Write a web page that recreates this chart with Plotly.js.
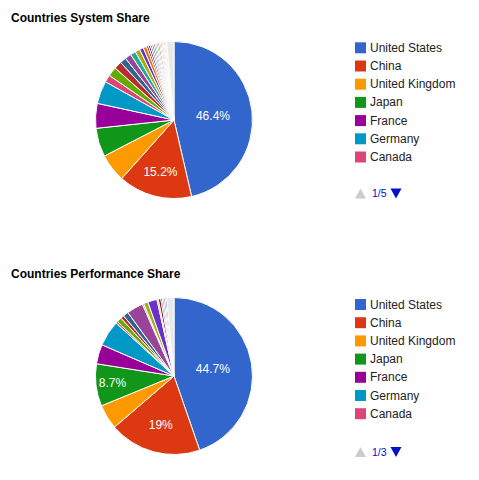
<!DOCTYPE html>
<html>
<head>
<meta charset="utf-8">
<script src="https://cdn.plot.ly/plotly-3.0.1.min.js"></script>
<style>html,body{margin:0;padding:0;background:#fff;}#chart{width:479px;height:480px;}</style>
</head>
<body>
<div id="chart"></div>
<script>
// ---- data ----
const systemCountries = ["United States","China","United Kingdom","Japan","France","Germany","Canada",
  "Korea, South","Italy","India","Australia","Russia","Switzerland","Sweden","Netherlands",
  "Spain","Poland","Brazil","Norway","Saudi Arabia","Finland","Taiwan","Belgium","Denmark","Israel",
  "Austria","Singapore","New Zealand","Ireland","South Africa","Other"];
const systemShare = [46.4,15.2,5.8,5.9,5.1,4.7,1.5,
  1.9,1.6,1.3,1.3,1.1,1.0,0.8,0.7,
  0.4,0.4,0.35,0.35,0.3,0.3,0.3,0.3,0.25,0.25,0.25,0.2,0.2,0.2,0.15,1.5];

const perfCountries = ["United States","China","United Kingdom","Japan","France","Germany","Canada",
  "Korea, South","Italy","India","Australia","Russia","Switzerland","Sweden","Netherlands","Spain",
  "Poland","Brazil","Norway","Finland","Other"];
const perfShare = [44.7,19.0,5.1,8.7,4.0,5.3,0.4,
  1.0,0.7,1.1,3.4,0.3,0.9,1.9,0.3,0.5,0.3,0.3,0.3,0.3,1.5];

const palette = ["#3366cc","#dc3912","#ff9900","#109618","#990099","#0099c6","#dd4477","#66aa00",
  "#b82e2e","#316395","#994499","#22aa99","#aaaa11","#6633cc","#e67300","#8b0707","#651067",
  "#329262","#5574a6","#3b3eac","#b77322","#16d620","#b91383","#f4359e","#9c5935","#a9c413",
  "#2a778d","#668d1c","#bea413","#0c5922","#743411"];
const otherColor = "#e8e8e8";

const chartTitles = ["Countries System Share","Countries Performance Share"];
const pagerText = ["1/5","1/3"];
const legendPerPage = 7;

// ---- helpers ----
const W = 479, H = 480;
const px = x => x / W;
const py = y => 1 - y / H;

function colorsFor(labels){
  return labels.map((l,i)=> l === "Other" ? otherColor : palette[i % palette.length]);
}
function textsFor(vals){
  const s = vals.reduce((a,b)=>a+b,0);
  return vals.map(v => { const p = v/s*100; return p >= 7 ? (Math.round(p*10)/10) + "%" : ""; });
}

const font = "Arial, 'Liberation Sans', sans-serif";

function pieTrace(labels, vals, cx, cy, r){
  return {
    type: "pie", labels: labels, values: vals, sort: false,
    direction: "clockwise", rotation: 0,
    marker: {colors: colorsFor(labels), line: {color: "#ffffff", width: 1}},
    text: textsFor(vals), textinfo: "text", textposition: "inside",
    insidetextorientation: "horizontal",
    textfont: {family: font, size: 12, color: "#ffffff"},
    hoverinfo: "label+percent",
    showlegend: false,
    domain: {x: [px(cx - r), px(cx + r)], y: [py(cy + r), py(cy - r)]}
  };
}

const data = [
  pieTrace(systemCountries, systemShare, 174, 120, 78.5),
  pieTrace(perfCountries, perfShare, 174, 376, 78.5)
];

const annotations = [];
const shapes = [];
const blocks = [
  {title: chartTitles[0], titleY: 18.3, legendY: 47.8, pagerY: 193.5, labels: systemCountries, pager: pagerText[0]},
  {title: chartTitles[1], titleY: 274.3, legendY: 304.5, pagerY: 452, labels: perfCountries, pager: pagerText[1]}
];
blocks.forEach(b => {
  annotations.push({xref:"paper", yref:"paper", x: px(9), y: py(b.titleY), xanchor:"left", yanchor:"middle",
    text: "<b>" + b.title + "</b>", showarrow:false, font:{family: font, size: 12, color:"#000000"}});
  const cols = colorsFor(b.labels);
  for (let i = 0; i < legendPerPage; i++){
    const yc = b.legendY + i * 18.2;
    shapes.push({type:"rect", xref:"paper", yref:"paper", x0: px(355), x1: px(366), y0: py(yc + 5.5), y1: py(yc - 5.5),
      fillcolor: cols[i], line:{width:0}});
    annotations.push({xref:"paper", yref:"paper", x: px(368), y: py(yc), xanchor:"left", yanchor:"middle",
      text: b.labels[i], showarrow:false, font:{family: font, size: 12, color:"#222222"}});
  }
  // pager
  const yp = b.pagerY;
  shapes.push({type:"path", xref:"paper", yref:"paper",
    path: `M ${px(355)} ${py(yp+5)} L ${px(366)} ${py(yp+5)} L ${px(360.5)} ${py(yp-5)} Z`,
    fillcolor:"#cccccc", line:{width:0}});
  annotations.push({xref:"paper", yref:"paper", x: px(369.5), y: py(yp), xanchor:"left", yanchor:"middle",
    text: b.pager, showarrow:false, font:{family: font, size: 10.5, color:"#0011cc"}});
  shapes.push({type:"path", xref:"paper", yref:"paper",
    path: `M ${px(390.5)} ${py(yp-5)} L ${px(401.5)} ${py(yp-5)} L ${px(396)} ${py(yp+5)} Z`,
    fillcolor:"#0011cc", line:{width:0}});
});

const layout = {
  width: W, height: H,
  margin: {l:0, r:0, t:0, b:0},
  paper_bgcolor: "#ffffff",
  showlegend: false,
  font: {family: font},
  annotations: annotations,
  shapes: shapes
};

Plotly.newPlot("chart", data, layout, {displayModeBar: false});
</script>
</body>
</html>
